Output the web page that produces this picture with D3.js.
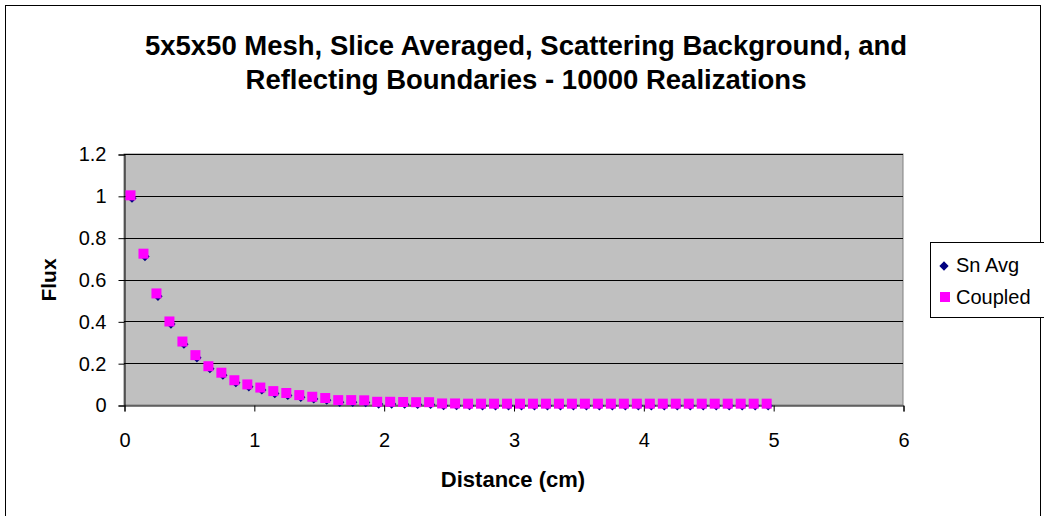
<!DOCTYPE html>
<html>
<head>
<meta charset="utf-8">
<script src="https://cdn.jsdelivr.net/npm/d3@7"></script>
<style>
  html, body { margin: 0; padding: 0; background: #fff; }
  svg { display: block; font-family: "Liberation Sans", Arial, sans-serif; }
</style>
</head>
<body>
<svg id="chart" width="1044" height="516"></svg>
<script>
// Distance at the centre of each of the 50 slices (cm)
const distance = [
  0.05, 0.15, 0.25, 0.35, 0.45, 0.55, 0.65, 0.75, 0.85, 0.95,
  1.05, 1.15, 1.25, 1.35, 1.45, 1.55, 1.65, 1.75, 1.85, 1.95,
  2.05, 2.15, 2.25, 2.35, 2.45, 2.55, 2.65, 2.75, 2.85, 2.95,
  3.05, 3.15, 3.25, 3.35, 3.45, 3.55, 3.65, 3.75, 3.85, 3.95,
  4.05, 4.15, 4.25, 4.35, 4.45, 4.55, 4.65, 4.75, 4.85, 4.95
];

// Slice-averaged flux, Sn average
const snAvg = [
  0.996, 0.717, 0.527, 0.394, 0.298, 0.233, 0.181, 0.150, 0.114, 0.094,
  0.079, 0.062, 0.053, 0.044, 0.036, 0.030, 0.020, 0.020, 0.019, 0.012,
  0.012, 0.011, 0.010, 0.010, 0.004, 0.004, 0.004, 0.003, 0.003, 0.003,
  0.003, 0.003, 0.003, 0.003, 0.003, 0.003, 0.003, 0.003, 0.003, 0.003,
  0.003, 0.003, 0.003, 0.003, 0.003, 0.003, 0.003, 0.003, 0.003, 0.003
];

// Slice-averaged flux, coupled calculation
const coupled = [
  1.000, 0.721, 0.531, 0.397, 0.301, 0.236, 0.183, 0.152, 0.116, 0.096,
  0.081, 0.064, 0.055, 0.045, 0.037, 0.031, 0.021, 0.021, 0.020, 0.013,
  0.013, 0.012, 0.011, 0.011, 0.005, 0.005, 0.004, 0.004, 0.004, 0.004,
  0.004, 0.004, 0.004, 0.004, 0.004, 0.004, 0.004, 0.004, 0.004, 0.004,
  0.004, 0.004, 0.004, 0.004, 0.004, 0.004, 0.004, 0.004, 0.004, 0.004
];

const xTicks = [0, 1, 2, 3, 4, 5, 6];
const yTicks = [0, 0.2, 0.4, 0.6, 0.8, 1, 1.2];
const titleLines = [
  "5x5x50 Mesh, Slice Averaged, Scattering Background, and",
  "Reflecting Boundaries - 10000 Realizations"
];
const seriesNames = ["Sn Avg", "Coupled"];

const svg = d3.select("#chart");

// Chart frame
svg.append("rect")
  .attr("x", 5.5).attr("y", 5.5)
  .attr("width", 1035).attr("height", 530)
  .attr("fill", "#fff").attr("stroke", "#000").attr("stroke-width", 1);

const plot = { left: 124, right: 903, top: 154, bottom: 405 };

const x = d3.scaleLinear().domain([0, 6]).range([plot.left, plot.right]);
const y = d3.scaleLinear().domain([0, 1.2]).range([plot.bottom, plot.top]);

// Plot area
svg.append("rect")
  .attr("x", plot.left).attr("y", plot.top)
  .attr("width", plot.right - plot.left).attr("height", plot.bottom - plot.top)
  .attr("fill", "#c0c0c0").attr("stroke", "#808080").attr("stroke-width", 1);

// Horizontal gridlines
svg.append("g")
  .selectAll("line")
  .data(yTicks.filter(d => d > 0))
  .join("line")
  .attr("x1", plot.left).attr("x2", plot.right)
  .attr("y1", d => Math.round(y(d)) + 0.5).attr("y2", d => Math.round(y(d)) + 0.5)
  .attr("stroke", "#000").attr("stroke-width", 1);

const tickFont = 20;

// Y axis
const yAxis = svg.append("g")
  .attr("transform", `translate(${plot.left + 0.5},0.5)`)
  .call(d3.axisLeft(y).tickValues(yTicks).tickSize(6).tickPadding(12)
    .tickFormat(d => String(+d.toFixed(1))));
yAxis.select(".domain").attr("stroke", "#000");
yAxis.selectAll(".tick line").attr("stroke", "#000");
yAxis.selectAll("text").attr("font-size", tickFont).attr("fill", "#000")
  .attr("font-family", "Liberation Sans, Arial, sans-serif");

// X axis
const xAxis = svg.append("g")
  .attr("transform", `translate(0.5,${plot.bottom + 0.5})`)
  .call(d3.axisBottom(x).tickValues(xTicks).tickSize(6).tickPadding(21)
    .tickFormat(d3.format("d")));
xAxis.select(".domain").attr("stroke", "#000");
xAxis.selectAll(".tick line").attr("stroke", "#000");
xAxis.selectAll("text").attr("font-size", tickFont).attr("fill", "#000")
  .attr("font-family", "Liberation Sans, Arial, sans-serif");

// Series markers
const diamond = d3.symbol().type(d3.symbolDiamond2).size(55);
const snData = distance.map((d, i) => ({ x: d, y: snAvg[i] }));
const cpData = distance.map((d, i) => ({ x: d, y: coupled[i] }));

svg.append("g")
  .selectAll("path")
  .data(snData)
  .join("path")
  .attr("d", diamond)
  .attr("transform", d => `translate(${x(d.x) + 1.5},${y(d.y) + 1.5})`)
  .attr("fill", "#000080");

svg.append("g")
  .selectAll("rect")
  .data(cpData)
  .join("rect")
  .attr("x", d => x(d.x) - 5)
  .attr("y", d => y(d.y) - 5.5)
  .attr("width", 10).attr("height", 10)
  .attr("fill", "#ff00ff");

// Title
svg.append("g")
  .selectAll("text")
  .data(titleLines)
  .join("text")
  .attr("x", 526)
  .attr("y", (d, i) => 55 + i * 34)
  .attr("text-anchor", "middle")
  .attr("font-size", 27.5).attr("font-weight", "bold").attr("fill", "#000")
  .text(d => d);

// Axis titles
svg.append("text")
  .attr("x", 513).attr("y", 487)
  .attr("text-anchor", "middle")
  .attr("font-size", 22).attr("font-weight", "bold")
  .text("Distance (cm)");

svg.append("text")
  .attr("transform", "translate(56,280) rotate(-90)")
  .attr("text-anchor", "middle")
  .attr("font-size", 21).attr("font-weight", "bold")
  .text("Flux");

// Legend
const legend = svg.append("g");
legend.append("rect")
  .attr("x", 930.5).attr("y", 242.5)
  .attr("width", 115).attr("height", 75)
  .attr("fill", "#fff").attr("stroke", "#000");

const legendItems = legend.selectAll("g.item")
  .data(seriesNames)
  .join("g")
  .attr("class", "item")
  .attr("transform", (d, i) => `translate(0,${265 + i * 32})`);

legendItems.each(function (d, i) {
  const g = d3.select(this);
  if (i === 0) {
    g.append("path")
      .attr("d", diamond)
      .attr("transform", "translate(944,1)")
      .attr("fill", "#000080");
  } else {
    g.append("rect")
      .attr("x", 940).attr("y", -5)
      .attr("width", 10).attr("height", 10)
      .attr("fill", "#ff00ff");
  }
  g.append("text")
    .attr("x", 956).attr("y", 7)
    .attr("font-size", 20).attr("fill", "#000")
    .text(d);
});
</script>
</body>
</html>
